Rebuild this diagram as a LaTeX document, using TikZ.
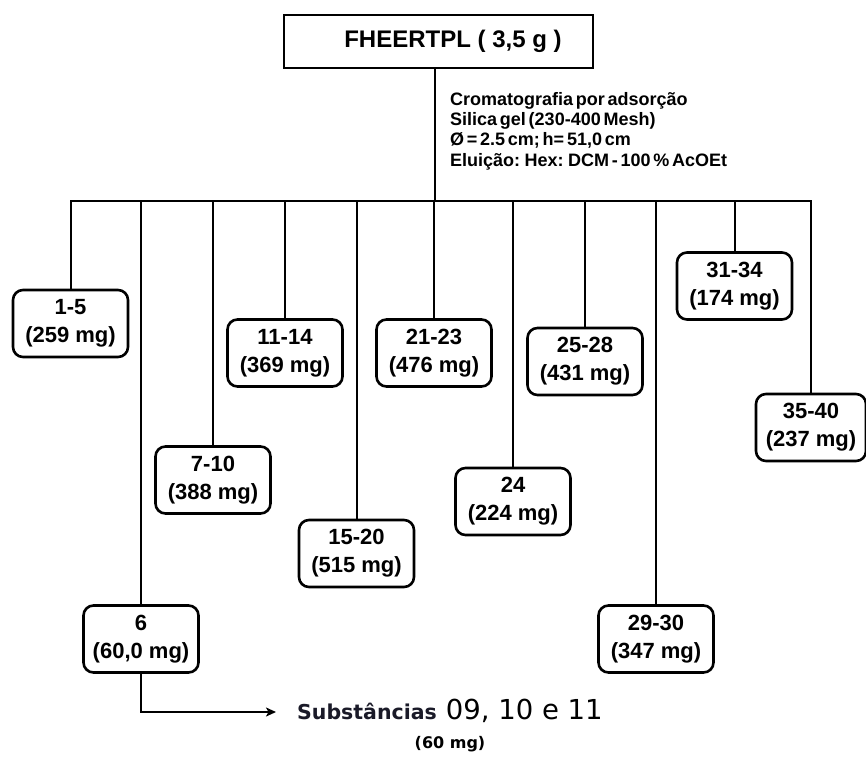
\documentclass[tikz,border=0pt]{standalone}
\usepackage{fontspec}
\setmainfont{Liberation Sans}
\newfontfamily\dvsans{DejaVu Sans}
\newfontfamily\notefont[WordSpace=0.55]{Liberation Sans}
\usetikzlibrary{arrows.meta}

\begin{document}
\begin{tikzpicture}[x=1pt,y=-1pt,
  fraction/.style={draw, line width=2.6pt, rounded corners=10pt,
    minimum width=115pt, minimum height=67pt, inner sep=0pt, align=center,
    font=\fontsize{22}{28}\selectfont\bfseries},
  link/.style={line width=2pt},
  note/.style={inner sep=0pt, align=left,
    font=\notefont\bfseries\fontsize{18}{20.3}\selectfont},
]
\useasboundingbox (0,0) rectangle (866,758);

% extract
\node[draw, line width=2.6pt, minimum width=309pt, minimum height=53pt,
  inner sep=0pt, font=\fontsize{24}{28}\selectfont\bfseries]
  (top) at (438.5,41.5) {\hspace*{29pt}FHEERTPL ( 3,5 g )};

% column conditions
\node[note, anchor=north west] (cond) at (450,92)
  {Cromatografia por adsorção\\
   Silica gel (230-400 Mesh)\\
   Ø = 2.5 cm; h= 51,0 cm\\
   Eluição: Hex: DCM - 100 \% AcOEt};

% fractions
\node[fraction] (b1)  at (70.5,323.5) {1-5\\(259 mg)};
\node[fraction] (b6)  at (141,639)    {6\\(60,0 mg)};
\node[fraction] (b7)  at (213,480)    {7-10\\(388 mg)};
\node[fraction] (b11) at (285,353)    {11-14\\(369 mg)};
\node[fraction] (b15) at (356.5,553.5){15-20\\(515 mg)};
\node[fraction] (b21) at (434,353)    {21-23\\(476 mg)};
\node[fraction] (b24) at (513,501.5)  {24\\(224 mg)};
\node[fraction] (b25) at (585,361.5)  {25-28\\(431 mg)};
\node[fraction] (b29) at (656,639)    {29-30\\(347 mg)};
\node[fraction] (b31) at (734.5,286)  {31-34\\(174 mg)};
\node[fraction, minimum width=110pt] (b35) at (811,427.5) {35-40\\(237 mg)};

% distribution bar
\coordinate (j) at (435,200.7);
\draw[link] (top.south -| j) -- (j);
\draw[link] (b1.north) -- (b1.north |- j) -- (b35.north |- j) -- (b35.north);
\foreach \b in {b6,b7,b11,b15,b21,b24,b25,b29,b31}
  \draw[link] (\b.north |- j) -- (\b.north);

% isolated substances
\node[anchor=base west, inner sep=0pt] (sub) at (297,719)
  {{\dvsans\bfseries\fontsize{20.5}{24}\selectfont\color[HTML]{1A1A28}Substâncias}\hspace{9pt}{\dvsans\fontsize{27.5}{32}\selectfont 09, 10 e 11}};
\node[inner sep=0pt, font=\dvsans\bfseries\fontsize{16}{19}\selectfont]
  (mass) at (450,744) {(60 mg)};
\coordinate (tip) at (276,712);
\draw[link, -{Stealth[length=10pt, width=9pt, inset=2.5pt]}] (b6.south) |- (tip);

\end{tikzpicture}
\end{document}
